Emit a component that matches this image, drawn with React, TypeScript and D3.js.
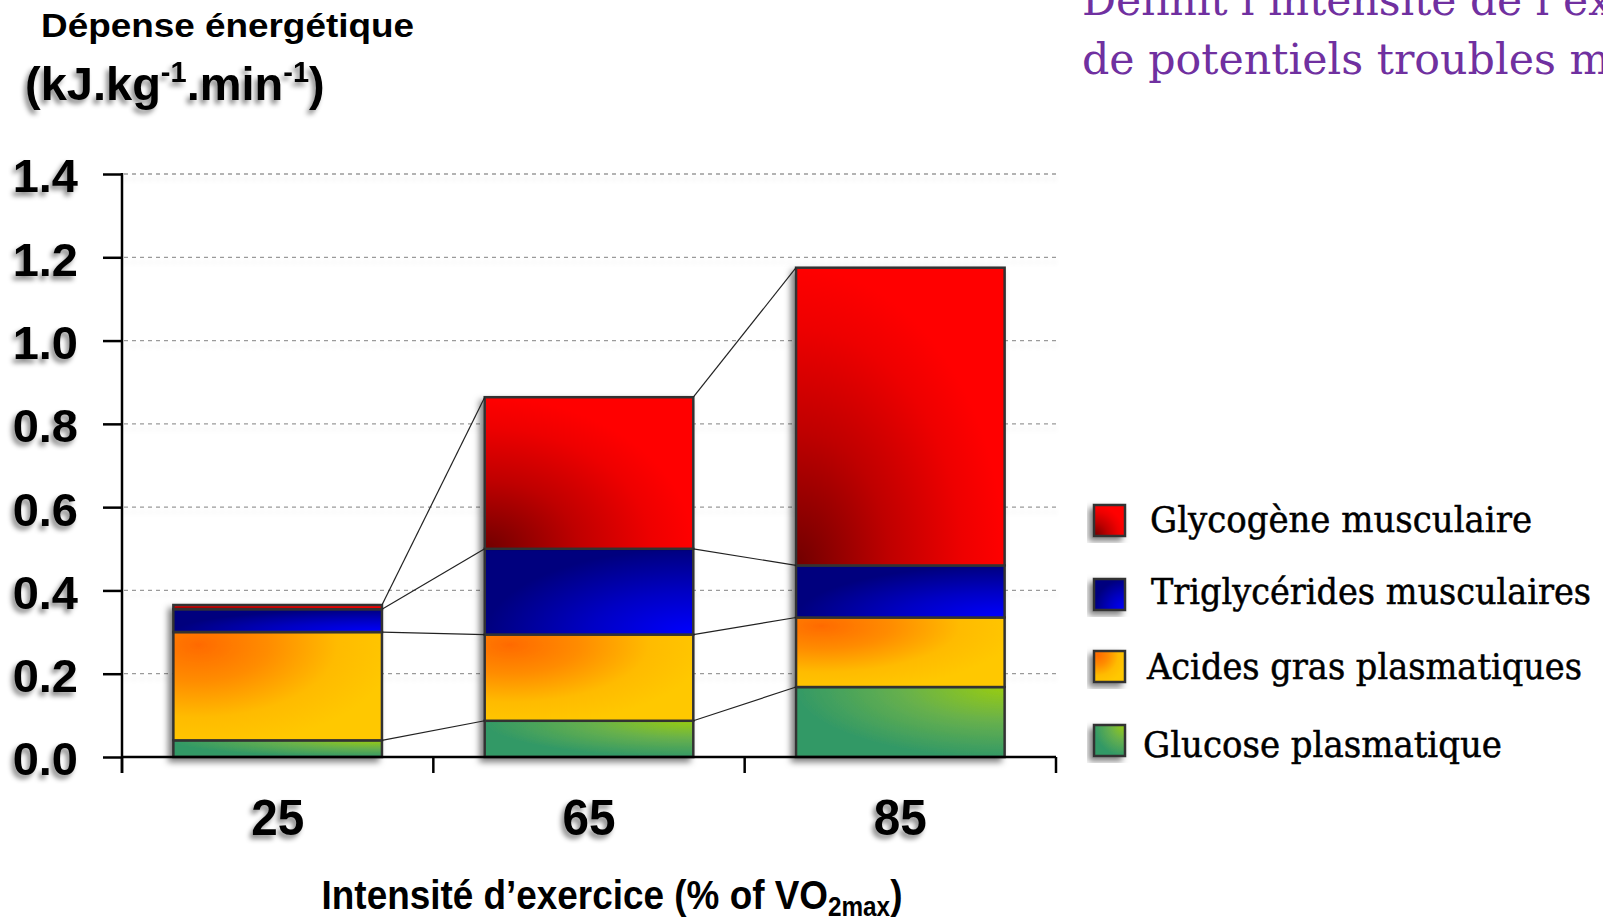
import React, { useEffect, useRef } from 'react';
import * as d3 from 'd3';

// Energy expenditure per substrate (kJ.kg-1.min-1)
const categories = ['25', '65', '85'];
const glucose = [0.04, 0.087, 0.168];
const acidesGras = [0.26, 0.207, 0.167];
const triglycerides = [0.055, 0.206, 0.125];
const glycogene = [0.01, 0.364, 0.715];

const seriesKeys = ['glucose', 'acides', 'triglycerides', 'glycogene'];
const legendKeys = ['glycogene', 'triglycerides', 'acides', 'glucose'];
const legendLabels = [
  'Glycogène musculaire',
  'Triglycérides musculaires',
  'Acides gras plasmatiques',
  'Glucose plasmatique',
];
const yTicks = [0, 0.2, 0.4, 0.6, 0.8, 1.0, 1.2, 1.4];

const App: React.FC = () => {
  const svgRef = useRef<SVGSVGElement>(null);

  useEffect(() => {
    const svg = d3.select(svgRef.current);
    svg.selectAll('*').remove();

    const x = d3.scaleBand<string>()
      .domain(categories)
      .range([122, 1056])
      .paddingInner(0.33)
      .paddingOuter(0.165);
    const y = d3.scaleLinear().domain([0, 1.4]).range([757, 174]);

    const rows = categories.map((c, i) => ({
      cat: c,
      glucose: glucose[i],
      acides: acidesGras[i],
      triglycerides: triglycerides[i],
      glycogene: glycogene[i],
    }));
    const stacked = d3.stack<any>().keys(seriesKeys)(rows);

    const defs = svg.append('defs');

    // drop shadows
    const shadow = defs.append('filter').attr('id', 'shadow')
      .attr('x', '-20%').attr('y', '-20%').attr('width', '140%').attr('height', '140%');
    shadow.append('feDropShadow')
      .attr('dx', -4).attr('dy', 4).attr('stdDeviation', 3)
      .attr('flood-color', '#000').attr('flood-opacity', 0.5);

    const textShadow = defs.append('filter').attr('id', 'textShadow')
      .attr('x', '-30%').attr('y', '-30%').attr('width', '160%').attr('height', '160%');
    textShadow.append('feDropShadow')
      .attr('dx', -3).attr('dy', 4).attr('stdDeviation', 2.5)
      .attr('flood-color', '#000').attr('flood-opacity', 0.45);

    const gridShadow = defs.append('filter').attr('id', 'gridShadow')
      .attr('x', '-5%').attr('y', '-200%').attr('width', '110%').attr('height', '500%');
    gridShadow.append('feDropShadow')
      .attr('dx', 0).attr('dy', 5).attr('stdDeviation', 2.5)
      .attr('flood-color', '#000').attr('flood-opacity', 0.12);

    // gradients
    const radial = (id: string, cx: number, cy: number, r: number, stops: [number, string][]) => {
      const g = defs.append('radialGradient').attr('id', id)
        .attr('cx', cx).attr('cy', cy).attr('r', r);
      stops.forEach(([o, c]) => g.append('stop').attr('offset', o).attr('stop-color', c));
    };
    radial('grad-glycogene', 0, 1, 1, [[0, '#700000'], [0.45, '#bf0000'], [0.8, '#ee0000'], [1, '#ff0000']]);
    radial('grad-triglycerides', 1, 1, 1, [[0, '#0000ff'], [0.5, '#0000c4'], [1, '#00007e']]);
    radial('grad-acides', 0.12, 0.12, 0.95, [[0, '#ff6a00'], [0.35, '#ff8c00'], [0.7, '#ffbb00'], [1, '#ffc800']]);
    radial('grad-glucose', 1, 0, 1, [[0, '#99cc11'], [0.5, '#66b04d'], [1, '#339966']]);

    // grid lines
    svg.append('g')
      .attr('filter', 'url(#gridShadow)')
      .selectAll('line')
      .data(yTicks.filter(t => t > 0))
      .enter()
      .append('line')
      .attr('x1', 124)
      .attr('x2', 1056)
      .attr('y1', d => y(d))
      .attr('y2', d => y(d))
      .attr('stroke', '#9a9a9a')
      .attr('stroke-width', 1.3)
      .attr('stroke-dasharray', '4,4');

    // bars
    const bw = x.bandwidth();
    const bars = svg.append('g').attr('filter', 'url(#shadow)');
    stacked.forEach(layer => {
      bars.selectAll(null)
        .data(layer)
        .enter()
        .append('rect')
        .attr('x', (d: any) => x(d.data.cat) as number)
        .attr('y', (d: any) => y(d[1]))
        .attr('width', bw)
        .attr('height', (d: any) => y(d[0]) - y(d[1]))
        .attr('fill', `url(#grad-${layer.key})`)
        .attr('stroke', '#333')
        .attr('stroke-width', 2.5);
    });

    // connector lines between bars
    const conn = svg.append('g');
    stacked.forEach(layer => {
      for (let i = 0; i < layer.length - 1; i++) {
        conn.append('line')
          .attr('x1', (x(categories[i]) as number) + bw)
          .attr('y1', y(layer[i][1]))
          .attr('x2', x(categories[i + 1]) as number)
          .attr('y2', y(layer[i + 1][1]))
          .attr('stroke', '#222')
          .attr('stroke-width', 1.2);
      }
    });

    // y axis
    const yAxis = svg.append('g')
      .attr('transform', 'translate(122,0)')
      .call(d3.axisLeft(y).tickValues(yTicks).tickSize(19).tickPadding(25).tickFormat(d3.format('.1f')));
    yAxis.select('.domain').remove();
    yAxis.selectAll('line').attr('stroke', '#000').attr('stroke-width', 2.5);
    yAxis.selectAll('text')
      .attr('dy', '0.38em')
      .attr('fill', '#000')
      .attr('filter', 'url(#textShadow)')
      .style('font-family', '"Liberation Sans", Arial, sans-serif')
      .style('font-size', '47px')
      .style('font-weight', 'bold');

    svg.append('line')
      .attr('x1', 122).attr('x2', 122)
      .attr('y1', y(1.4) - 1).attr('y2', y(0) + 16)
      .attr('stroke', '#000').attr('stroke-width', 2.5);

    // x axis
    svg.append('line')
      .attr('x1', 122).attr('x2', 1056)
      .attr('y1', y(0)).attr('y2', y(0))
      .attr('stroke', '#000').attr('stroke-width', 2.5);
    const bounds = d3.range(categories.length + 1).map(i => x.range()[0] + i * x.step());
    svg.selectAll(null)
      .data(bounds)
      .enter()
      .append('line')
      .attr('x1', d => d).attr('x2', d => d)
      .attr('y1', y(0)).attr('y2', y(0) + 16)
      .attr('stroke', '#000').attr('stroke-width', 2.5);

    svg.selectAll(null)
      .data(categories)
      .enter()
      .append('text')
      .attr('x', d => (x(d) as number) + bw / 2)
      .attr('y', 835)
      .attr('text-anchor', 'middle')
      .attr('textLength', 53)
      .attr('lengthAdjust', 'spacingAndGlyphs')
      .attr('filter', 'url(#textShadow)')
      .style('font-family', '"Liberation Sans", Arial, sans-serif')
      .style('font-size', '50px')
      .style('font-weight', 'bold')
      .text(d => d);

    // x axis title
    const xt = svg.append('g').attr('transform', 'translate(612,909) scale(0.9,1)')
      .append('text')
      .attr('text-anchor', 'middle')
      .style('font-family', '"Liberation Sans", Arial, sans-serif')
      .style('font-size', '41px')
      .style('font-weight', 'bold');
    xt.append('tspan').text('Intensité d’exercice (% of VO');
    xt.append('tspan').attr('dy', 7).style('font-size', '27px').text('2max');
    xt.append('tspan').attr('dy', -7).text(')');

    // y axis title
    svg.append('text')
      .attr('x', 41).attr('y', 37)
      .attr('textLength', 373)
      .attr('lengthAdjust', 'spacingAndGlyphs')
      .style('font-family', '"Liberation Sans", Arial, sans-serif')
      .style('font-size', '34px')
      .style('font-weight', 'bold')
      .text('Dépense énergétique');

    const unit = svg.append('text')
      .attr('x', 25).attr('y', 100)
      .attr('filter', 'url(#textShadow)')
      .style('font-family', '"Liberation Sans", Arial, sans-serif')
      .style('font-size', '47px')
      .style('font-weight', 'bold');
    unit.append('tspan').text('(kJ.kg');
    unit.append('tspan').attr('dy', -18).style('font-size', '29px').text('-1');
    unit.append('tspan').attr('dy', 18).text('.min');
    unit.append('tspan').attr('dy', -18).style('font-size', '29px').text('-1');
    unit.append('tspan').attr('dy', 18).text(')');

    // legend
    const swatchTops = [505, 579, 651, 725];
    const textBase = [532, 604, 679, 757];
    const textX = [1150, 1151, 1147, 1143];
    const textLen = [382, 440, 435, 359];
    const legend = svg.append('g');
    legendKeys.forEach((k, i) => {
      legend.append('rect')
        .attr('x', 1094).attr('y', swatchTops[i])
        .attr('width', 31).attr('height', 31)
        .attr('fill', `url(#grad-${k})`)
        .attr('stroke', '#333').attr('stroke-width', 2.5)
        .attr('filter', 'url(#shadow)');
      legend.append('text')
        .attr('x', textX[i]).attr('y', textBase[i])
        .attr('textLength', textLen[i])
        .attr('lengthAdjust', 'spacingAndGlyphs')
        .style('font-family', '"DejaVu Serif", serif')
        .style('font-size', '35px')
        .style('fill', '#000')
        .style('stroke', '#000')
        .style('stroke-width', 0.5)
        .text(legendLabels[i]);
    });

    // purple slide text, clipped by the frame as in the source slide
    svg.append('text')
      .attr('x', 1082).attr('y', 15)
      .attr('textLength', 530)
      .attr('lengthAdjust', 'spacingAndGlyphs')
      .style('font-family', '"DejaVu Serif", serif')
      .style('font-size', '42px')
      .style('fill', '#7030a0')
      .text('Définit l’intensité de l’ex');
    svg.append('text')
      .attr('x', 1082).attr('y', 74)
      .attr('textLength', 528)
      .attr('lengthAdjust', 'spacingAndGlyphs')
      .style('font-family', '"DejaVu Serif", serif')
      .style('font-size', '42px')
      .style('fill', '#7030a0')
      .text('de potentiels troubles m');
  }, []);

  return (
    <svg
      ref={svgRef}
      width={1603}
      height={920}
      style={{ position: 'absolute', left: 0, top: 0, background: '#fff' }}
    />
  );
};

export default App;
